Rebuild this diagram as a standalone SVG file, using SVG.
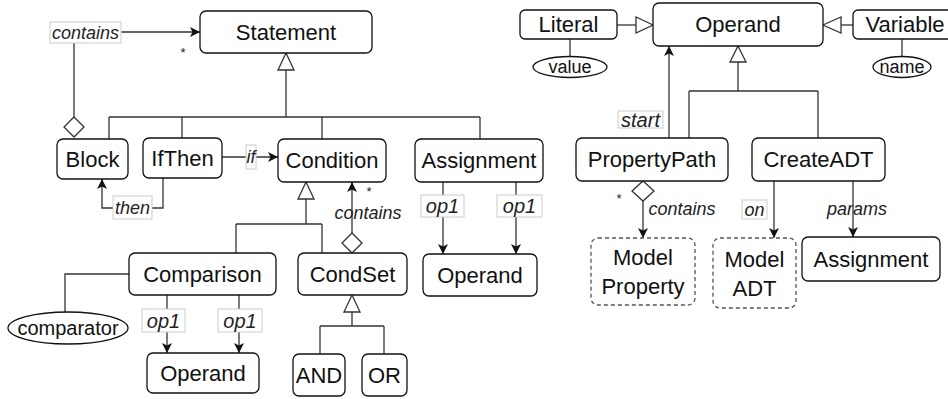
<svg xmlns="http://www.w3.org/2000/svg" width="948" height="399" viewBox="0 0 948 399">
<defs>
<style>
.n{fill:#fff;stroke:#111;stroke-width:1.3}
.d{fill:#fff;stroke:#555;stroke-width:1.3;stroke-dasharray:4 3}
.t{font-family:"Liberation Sans",Arial,sans-serif;font-size:22px;fill:#111;text-anchor:middle;dominant-baseline:central}
.e{font-family:"Liberation Sans",Arial,sans-serif;font-size:20px;fill:#111;text-anchor:middle;dominant-baseline:central}
.e2{font-family:"Liberation Sans",Arial,sans-serif;font-size:18px;fill:#111;text-anchor:middle;dominant-baseline:central}
.c{fill:none;stroke:#333;stroke-width:1.3}
.tri{fill:#fff;stroke:#333;stroke-width:1.3}
.lb{fill:#fff;stroke:#ccc;stroke-width:1}
.l{font-family:"Liberation Sans",Arial,sans-serif;font-size:18px;font-style:italic;fill:#222;text-anchor:middle;dominant-baseline:central}
.l2{font-family:"Liberation Sans",Arial,sans-serif;font-size:20px;font-style:italic;fill:#222;text-anchor:middle;dominant-baseline:central}
.s{font-family:"Liberation Sans",Arial,sans-serif;font-size:13px;fill:#222;text-anchor:middle;dominant-baseline:central}
</style>
<marker id="arr" viewBox="0 0 10 10" refX="10" refY="5" markerWidth="10" markerHeight="10" markerUnits="userSpaceOnUse" orient="auto">
<path d="M0,0 L10,5 L0,10 L2.5,5 z" fill="#111"/>
</marker>
</defs>
<rect width="948" height="399" fill="#fff"/>

<g id="connectors">
<line class="c" x1="74" y1="117" x2="74" y2="43"/>
<polygon class="tri" points="74,117 84,127 74,137 64,127"/>
<line class="c" x1="121" y1="32" x2="200" y2="32" marker-end="url(#arr)"/>
<rect class="lb" x="50" y="22" width="71" height="21"/>
<text class="l" x="85.5" y="32.5">contains</text>
<text class="s" x="183" y="52">*</text>

<polyline class="c" points="286,70 286,117"/>
<polygon class="tri" points="286,53 294,70 278,70"/>
<line class="c" x1="109" y1="117" x2="480" y2="117"/>
<line class="c" x1="109" y1="117" x2="109" y2="139"/>
<line class="c" x1="182" y1="117" x2="182" y2="138"/>
<line class="c" x1="322" y1="117" x2="322" y2="139"/>
<line class="c" x1="480" y1="117" x2="480" y2="139"/>

<line class="c" x1="222" y1="157" x2="278" y2="157" marker-end="url(#arr)"/>
<rect class="lb" x="246" y="145" width="10" height="24"/>
<text class="l" x="251" y="157">if</text>

<polyline class="c" points="163,178 163,208 102,208 102,179" marker-end="url(#arr)"/>
<rect class="lb" x="113" y="196" width="39" height="23"/>
<text class="l" x="132.5" y="208">then</text>

<line class="c" x1="306" y1="199" x2="306" y2="224"/>
<polygon class="tri" points="306,182 314,199 298,199"/>
<line class="c" x1="236" y1="224" x2="322" y2="224"/>
<line class="c" x1="236" y1="224" x2="236" y2="253"/>
<line class="c" x1="322" y1="224" x2="322" y2="253"/>

<line class="c" x1="352" y1="233" x2="352" y2="182" marker-end="url(#arr)"/>
<polygon class="tri" points="352,233 362,243 352,253 342,243"/>
<text class="s" x="369" y="191">*</text>
<text class="l" x="368" y="213">contains</text>

<polyline class="c" points="65,312 65,274 129,274"/>

<line class="c" x1="167" y1="295" x2="167" y2="353" marker-end="url(#arr)"/>
<rect class="lb" x="142" y="309" width="43" height="23"/>
<text class="l2" x="163.5" y="320.5">op1</text>
<line class="c" x1="239" y1="295" x2="239" y2="353" marker-end="url(#arr)"/>
<rect class="lb" x="218" y="309" width="44" height="23"/>
<text class="l2" x="240" y="320.5">op1</text>

<line class="c" x1="352" y1="312" x2="352" y2="326"/>
<polygon class="tri" points="352,295 360,312 344,312"/>
<line class="c" x1="320" y1="326" x2="384" y2="326"/>
<line class="c" x1="320" y1="326" x2="320" y2="354"/>
<line class="c" x1="384" y1="326" x2="384" y2="354"/>

<line class="c" x1="443" y1="182" x2="443" y2="254" marker-end="url(#arr)"/>
<rect class="lb" x="421" y="195" width="43" height="22"/>
<text class="l2" x="442.5" y="206">op1</text>
<line class="c" x1="516" y1="182" x2="516" y2="254" marker-end="url(#arr)"/>
<rect class="lb" x="497" y="195" width="45" height="22"/>
<text class="l2" x="519.5" y="206">op1</text>

<line class="c" x1="617" y1="25" x2="636" y2="25"/>
<polygon class="tri" points="653,25 636,17 636,33"/>
<line class="c" x1="853" y1="25" x2="841" y2="25"/>
<polygon class="tri" points="823,25 841,17 841,33"/>
<line class="c" x1="570" y1="39" x2="570" y2="57"/>
<line class="c" x1="902" y1="39" x2="902" y2="57"/>

<line class="c" x1="738" y1="62" x2="738" y2="91"/>
<polygon class="tri" points="738,46 746,62 730,62"/>
<line class="c" x1="689" y1="91" x2="818" y2="91"/>
<line class="c" x1="689" y1="91" x2="689" y2="138"/>
<line class="c" x1="818" y1="91" x2="818" y2="138"/>

<line class="c" x1="669" y1="138" x2="669" y2="46" marker-end="url(#arr)"/>
<rect class="lb" x="618" y="111" width="45" height="17"/>
<text class="l2" x="640.5" y="119.5">start</text>

<line class="c" x1="643" y1="201" x2="643" y2="238" marker-end="url(#arr)"/>
<polygon class="tri" points="643,181 654,191 643,201 632,191"/>
<text class="s" x="619" y="198">*</text>
<text class="l" x="682" y="209">contains</text>

<line class="c" x1="774" y1="181" x2="774" y2="238" marker-end="url(#arr)"/>
<rect class="lb" x="742" y="200" width="25" height="19"/>
<text class="l" x="754.5" y="209.5">on</text>

<line class="c" x1="853" y1="181" x2="853" y2="237" marker-end="url(#arr)"/>
<text class="l" x="857" y="209">params</text>
</g>

<g id="Statement"><rect class="n" x="200" y="11" width="172" height="42" rx="6"/><text class="t" x="286" y="32">Statement</text></g>
<g id="Block"><rect class="n" x="57" y="139" width="71" height="40" rx="6"/><text class="t" x="92.5" y="159">Block</text></g>
<g id="IfThen"><rect class="n" x="143" y="138" width="79" height="40" rx="6"/><text class="t" x="182.5" y="158">IfThen</text></g>
<g id="Condition"><rect class="n" x="278" y="139" width="108" height="43" rx="6"/><text class="t" x="332" y="160.5">Condition</text></g>
<g id="Assignment1"><rect class="n" x="415" y="139" width="128" height="43" rx="6"/><text class="t" x="479" y="160.5">Assignment</text></g>
<g id="Comparison"><rect class="n" x="129" y="253" width="147" height="42" rx="6"/><text class="t" x="202.5" y="274">Comparison</text></g>
<g id="CondSet"><rect class="n" x="298" y="253" width="109" height="42" rx="6"/><text class="t" x="352.5" y="274">CondSet</text></g>
<g id="comparator"><ellipse class="n" cx="68" cy="328" rx="60" ry="16"/><text class="e" x="68" y="328">comparator</text></g>
<g id="Operand1"><rect class="n" x="147" y="353" width="112" height="40" rx="6"/><text class="t" x="203" y="373">Operand</text></g>
<g id="AND"><rect class="n" x="293" y="354" width="52" height="42" rx="6"/><text class="t" x="319" y="375">AND</text></g>
<g id="OR"><rect class="n" x="362" y="354" width="45" height="42" rx="6"/><text class="t" x="384.5" y="375">OR</text></g>
<g id="Operand2"><rect class="n" x="423" y="254" width="114" height="42" rx="6"/><text class="t" x="480" y="275">Operand</text></g>
<g id="Literal"><rect class="n" x="520" y="10" width="97" height="29" rx="5"/><text class="t" x="568.5" y="24.5">Literal</text></g>
<g id="value"><ellipse class="n" cx="570" cy="67" rx="37" ry="10.5"/><text class="e2" x="570" y="67">value</text></g>
<g id="Operand3"><rect class="n" x="653" y="3" width="170" height="43" rx="6"/><text class="t" x="738" y="24.5">Operand</text></g>
<g id="Variable"><rect class="n" x="853" y="10" width="104" height="29" rx="5"/><text class="t" x="905" y="24.5">Variable</text></g>
<g id="name"><ellipse class="n" cx="902" cy="67" rx="29" ry="10.5"/><text class="e2" x="902" y="67">name</text></g>
<g id="PropertyPath"><rect class="n" x="576" y="138" width="152" height="43" rx="6"/><text class="t" x="652" y="159.5">PropertyPath</text></g>
<g id="CreateADT"><rect class="n" x="752" y="138" width="133" height="43" rx="6"/><text class="t" x="818.5" y="159.5">CreateADT</text></g>
<g id="ModelProperty"><rect class="d" x="591" y="238" width="104" height="67" rx="7"/><text class="t" x="643" y="257">Model</text><text class="t" x="643" y="286">Property</text></g>
<g id="ModelADT"><rect class="d" x="713" y="238" width="83" height="70" rx="7"/><text class="t" x="754.5" y="259">Model</text><text class="t" x="754.5" y="288">ADT</text></g>
<g id="Assignment2"><rect class="n" x="802" y="237" width="138" height="44" rx="6"/><text class="t" x="871" y="259">Assignment</text></g>
</svg>
